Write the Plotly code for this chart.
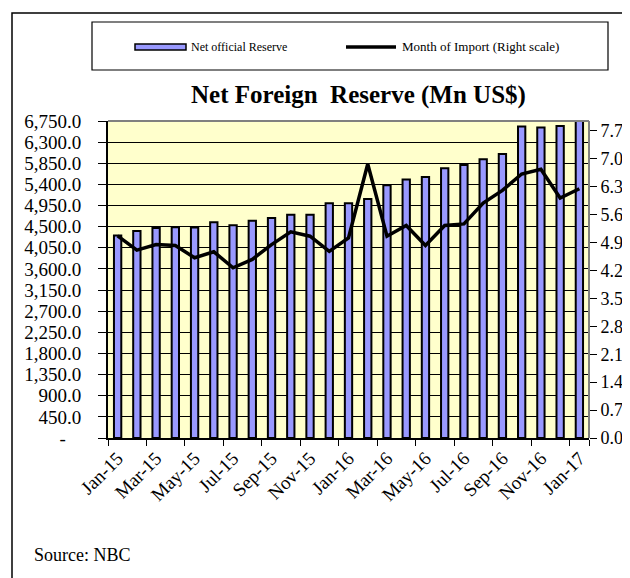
import plotly.graph_objects as go

# ---- data ----
months = ["Jan-15", "Feb-15", "Mar-15", "Apr-15", "May-15", "Jun-15", "Jul-15", "Aug-15",
          "Sep-15", "Oct-15", "Nov-15", "Dec-15", "Jan-16", "Feb-16", "Mar-16", "Apr-16",
          "May-16", "Jun-16", "Jul-16", "Aug-16", "Sep-16", "Oct-16", "Nov-16", "Dec-16",
          "Jan-17"]
net_reserve = [4310, 4410, 4470, 4485, 4480, 4595, 4530, 4625, 4685, 4755, 4755, 5000,
               5000, 5090, 5380, 5505, 5555, 5745, 5815, 5935, 6045, 6635, 6610, 6645,
               6790]
months_import = [5.07, 4.71, 4.85, 4.83, 4.52, 4.67, 4.27, 4.48, 4.85, 5.17, 5.06, 4.68,
                 5.02, 6.87, 5.06, 5.33, 4.83, 5.33, 5.37, 5.89, 6.21, 6.62, 6.74, 6.02,
                 6.25]
left_tickvals = [0, 450, 900, 1350, 1800, 2250, 2700, 3150, 3600, 4050, 4500, 4950,
                 5400, 5850, 6300, 6750]
left_ticktext = ["-"] + [f"{v:,.1f}" for v in left_tickvals[1:]]
x_ticklabels = months[::2]

W, H = 630, 578
PL, PR, PT, PB = 100, 581, 113, 430

def px(x):
    return (x - PL) / (PR - PL)

def py(y):
    return (PB - y) / (PB - PT)

SERIF = "Liberation Serif, Times New Roman, serif"
EN, THIN = "\u2002", "\u2009"
left_labels = [t + (EN * 3 if t == "-" else EN + THIN) for t in left_ticktext]

fig = go.Figure()
fig.add_trace(go.Bar(
    x=months, y=net_reserve, name="Net official Reserve",
    marker=dict(color="#9999FF", line=dict(color="black", width=2)),
    width=0.38,
))
fig.add_trace(go.Scatter(
    x=months, y=months_import, name="Month of Import (Right scale)",
    mode="lines", line=dict(color="black", width=3.5), yaxis="y2",
))

fig.update_layout(
    width=W, height=H,
    margin=dict(l=PL, r=W - PR, t=PT, b=H - PB, autoexpand=False),
    paper_bgcolor="white", plot_bgcolor="#FFFFCC",
    showlegend=False,
    font=dict(family=SERIF, color="black", size=16),
    xaxis=dict(
        type="category", categoryorder="array", categoryarray=months,
        tickmode="array", tickvals=x_ticklabels, ticktext=x_ticklabels,
        tickson="boundaries", ticks="outside", ticklen=6, tickcolor="black",
        tickangle=-45, tickfont=dict(size=19, family=SERIF),
        showline=True, linecolor="black", linewidth=1.5,
        showgrid=False, range=[-0.5, len(months) - 0.5],
    ),
    yaxis=dict(
        range=[0, 6750], tickmode="array", tickvals=left_tickvals, ticktext=left_labels,
        ticks="outside", ticklen=8, tickcolor="black",
        tickfont=dict(size=19, family=SERIF),
        showline=True, linecolor="black", linewidth=1.5,
        showgrid=True, gridcolor="black", gridwidth=1, zeroline=False,
    ),
    yaxis2=dict(
        overlaying="y", side="right", range=[0, 7.95], dtick=0.7, tick0=0,
        tickformat=".1f", ticks="outside", ticklen=7, tickcolor="black",
        tickfont=dict(size=18, family=SERIF),
        showgrid=False, zeroline=False, showline=False,
    ),
)

shapes = [
    # outer frame (cut on right & bottom)
    dict(type="rect", xref="paper", yref="paper", x0=px(4), x1=px(700), y0=py(5), y1=py(700),
         line=dict(color="black", width=1.5), fillcolor="rgba(0,0,0,0)", layer="above"),
    # plot frame top & right (gray)
    dict(type="line", xref="paper", yref="paper", x0=0, x1=1, y0=1, y1=1,
         line=dict(color="#808080", width=2), layer="above"),
    dict(type="line", xref="paper", yref="paper", x0=1, x1=1, y0=0, y1=1,
         line=dict(color="#808080", width=2), layer="above"),
    # legend box
    dict(type="rect", xref="paper", yref="paper", x0=px(84), x1=px(600), y0=py(14), y1=py(62),
         line=dict(color="black", width=1.2), fillcolor="white", layer="above"),
    # legend symbols
    dict(type="rect", xref="paper", yref="paper", x0=px(127), x1=px(178), y0=py(36), y1=py(42),
         line=dict(color="black", width=1.5), fillcolor="#9999FF", layer="above"),
    dict(type="line", xref="paper", yref="paper", x0=px(338), x1=px(388), y0=py(39), y1=py(39),
         line=dict(color="black", width=3.5), layer="above"),
]
fig.update_layout(shapes=shapes)

annotations = [
    dict(text="Net official Reserve", x=px(181), y=py(39), xref="paper", yref="paper",
         xanchor="left", yanchor="middle", showarrow=False,
         font=dict(size=12, family=SERIF, color="black")),
    dict(text="Month of Import (Right scale)", x=px(392), y=py(39), xref="paper", yref="paper",
         xanchor="left", yanchor="middle", showarrow=False,
         font=dict(size=13, family=SERIF, color="black")),
    dict(text="<b>Net Foreign  Reserve (Mn US$)</b>", x=px(350), y=py(87), xref="paper", yref="paper",
         xanchor="center", yanchor="middle", showarrow=False,
         font=dict(size=25, family=SERIF, color="black")),
    dict(text="Source: NBC", x=px(24), y=py(547), xref="paper", yref="paper",
         xanchor="left", yanchor="middle", showarrow=False,
         font=dict(size=18, family=SERIF, color="black")),
]
fig.update_layout(annotations=annotations)

fig.write_html("out.html")
